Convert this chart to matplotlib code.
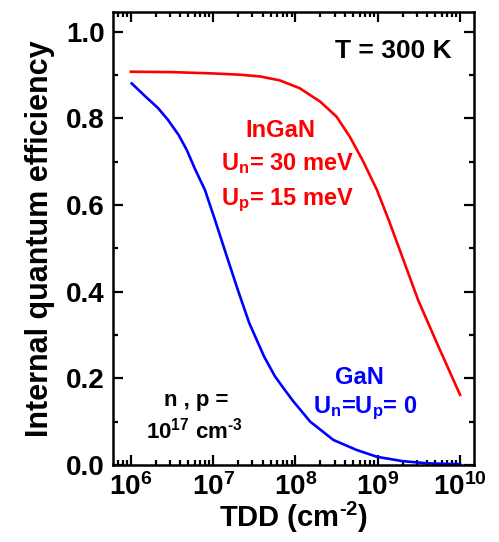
import matplotlib
matplotlib.use("Agg")
import matplotlib.pyplot as plt
import numpy as np
from matplotlib.ticker import LogLocator, MultipleLocator, FuncFormatter

plt.rcParams['font.family'] = ['Liberation Sans', 'DejaVu Sans']
plt.rcParams['font.weight'] = 'bold'
plt.rcParams['mathtext.fontset'] = 'custom'
plt.rcParams['mathtext.rm'] = 'Liberation Sans:bold'
plt.rcParams['mathtext.bf'] = 'Liberation Sans:bold'
plt.rcParams['mathtext.it'] = 'Liberation Sans:bold'

# data (log10 of TDD, efficiency)
gan_logx = [6.01, 6.17, 6.33, 6.45, 6.58, 6.68, 6.78, 6.90, 7.02, 7.16, 7.30,
            7.44, 7.62, 7.75, 7.86, 7.97, 8.18, 8.46, 8.74, 8.99, 9.3, 9.6, 10.0]
gan_iqe = [0.881, 0.852, 0.824, 0.797, 0.762, 0.727, 0.683, 0.635, 0.567, 0.485,
           0.404, 0.327, 0.250, 0.205, 0.176, 0.148, 0.100, 0.058, 0.035, 0.019,
           0.009, 0.004, 0.002]

ingan_logx = [6.0, 6.5, 7.0, 7.33, 7.57, 7.81, 8.05, 8.30, 8.50, 8.66, 8.82,
              8.99, 9.13, 9.27, 9.49, 9.72, 10.0]
ingan_iqe = [0.908, 0.907, 0.904, 0.901, 0.897, 0.888, 0.870, 0.839, 0.804,
             0.758, 0.702, 0.635, 0.567, 0.495, 0.381, 0.281, 0.162]

fig = plt.figure(figsize=(4.99, 5.42), dpi=100)
ax = fig.add_axes([0.226, 0.142, 0.724, 0.836])

ax.plot(10**np.array(ingan_logx), ingan_iqe, color='#ff0000', lw=1.9)
ax.plot(10**np.array(gan_logx), gan_iqe, color='#0000ff', lw=1.9)

ax.set_xscale('log')
ax.set_xlim(10**5.78, 10**10.17)
ax.set_ylim(0, 1.046)

ax.xaxis.set_major_locator(LogLocator(base=10, numticks=10))
ax.xaxis.set_minor_locator(LogLocator(base=10, subs=np.arange(2, 10), numticks=20))
ax.xaxis.set_major_formatter(FuncFormatter(lambda v, p: r'$10^{%d}$' % round(np.log10(v))))
ax.yaxis.set_major_locator(MultipleLocator(0.2))
ax.yaxis.set_minor_locator(MultipleLocator(0.1))
ax.yaxis.set_major_formatter(FuncFormatter(lambda v, p: '%.1f' % v))

ax.tick_params(which='both', direction='in', top=True, right=True, width=1.6)
ax.tick_params(which='major', length=7, labelsize=20, pad=6)
ax.tick_params(which='minor', length=3.5)
for s in ax.spines.values():
    s.set_linewidth(1.8)

ax.set_xlabel(r'TDD (cm$^{\text{-}2}$)', fontsize=21, fontweight='bold', labelpad=-1)
ax.set_ylabel('Internal quantum efficiency', fontsize=22, fontweight='bold', labelpad=8)

W, H = 499, 542
def ft(x, y, s, c='black', size=16):
    fig.text(x / W, 1 - y / H, s, color=c, fontsize=size, fontweight='bold',
             ha='center', va='baseline')

ft(393, 58, 'T = 300 K', size=19)
ft(280, 137, 'InGaN', c='#ff0000', size=17)
ft(287, 170, r'U$_\mathregular{n}$= 30 meV', c='#ff0000', size=17)
ft(287, 205, r'U$_\mathregular{p}$= 15 meV', c='#ff0000', size=17)
ft(359, 384, 'GaN', c='#0000ff', size=17)
ft(365, 413, r'U$_\mathregular{n}$=U$_\mathregular{p}$= 0', c='#0000ff', size=17)
ft(196, 406, 'n , p =', size=16)
ft(194, 438, r'10$^{17}$ cm$^{\text{-}3}$', size=16)

fig.savefig('out.png', dpi=100)
